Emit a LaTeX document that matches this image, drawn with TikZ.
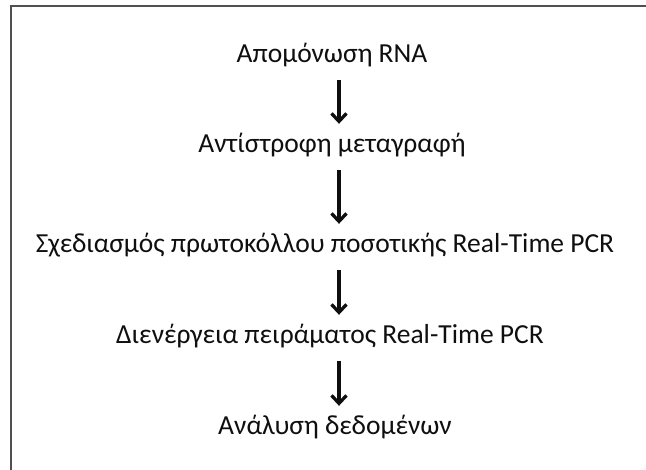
\documentclass[tikz,border=0pt]{standalone}
\usepackage{fontspec}
\setmainfont{Carlito}
\usetikzlibrary{arrows.meta}
\definecolor{frame}{RGB}{80,80,80}
\definecolor{ink}{RGB}{15,15,15}
\newcommand{\drawframe}{\draw[frame,line width=2pt] (10.5,470)--(10.5,6.5)--(646,6.5);}

\begin{document}
\begin{tikzpicture}[x=1pt,y=-1pt,
  stage/.style={anchor=base,inner sep=0pt,text height=19pt,text depth=6pt,
    font=\fontsize{27.5}{32}\selectfont,text=ink},
  flow/.style={ink,line width=3.3pt,-{Straight Barb[length=8pt,width=15pt]},
    shorten <=11pt,shorten >=10pt}]
\useasboundingbox (0,0) rectangle (646,470);
\drawframe
\node[stage] (rna) at (332,63) {Απομόνωση RNA};
\node[stage] (rt) at (332,153) {Αντίστροφη μεταγραφή};
\node[stage] (design) at (325,253) {Σχεδιασμός πρωτοκόλλου ποσοτικής Real-Time PCR};
\node[stage] (run) at (330,344) {Διενέργεια πειράματος Real-Time PCR};
\node[stage] (analysis) at (335,435) {Ανάλυση δεδομένων};
\draw[flow] ([xshift=7pt]rna.south)--([xshift=7pt]rt.north);
\draw[flow] ([xshift=7pt]rt.south)--([xshift=14pt]design.north);
\draw[flow] ([xshift=14pt]design.south)--([xshift=9pt]run.north);
\draw[flow] ([xshift=9pt]run.south)--([xshift=4pt]analysis.north);
\end{tikzpicture}
\end{document}
